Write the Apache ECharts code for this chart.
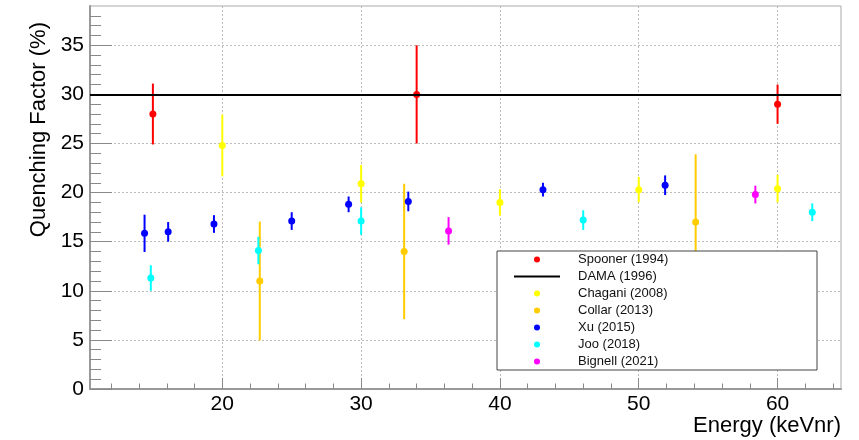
<!DOCTYPE html>
<html>
<head>
<meta charset="utf-8">
<script src="https://cdn.jsdelivr.net/npm/echarts@6/dist/echarts.min.js"></script>
<style>
  html, body { margin: 0; padding: 0; background: #fff; }
  #chart { width: 859px; height: 440px; }
</style>
</head>
<body>
<div id="chart"></div>
<script>
// ---- axis ranges and ticks ----
const xMin = 10.47, xMax = 64.57;
const yMin = 0, yMax = 39;
const xMajorTicks = [20, 30, 40, 50, 60];
const xMinorTicks = [12, 14, 16, 18, 22, 24, 26, 28, 32, 34, 36, 38, 42, 44, 46, 48, 52, 54, 56, 58, 62, 64];
const yMajorTicks = [0, 5, 10, 15, 20, 25, 30, 35];
const yMinorTicks = [1, 2, 3, 4, 6, 7, 8, 9, 11, 12, 13, 14, 16, 17, 18, 19, 21, 22, 23, 24, 26, 27, 28, 29, 31, 32, 33, 34, 36, 37, 38];
const xTitle = 'Energy (keVnr)';
const yTitle = 'Quenching Factor (%)';

// ---- data: energy (keVnr), quenching factor (%), error (%) ----
const spoonerE   = [15, 34, 60];
const spoonerQF  = [28.0, 30.0, 29.0];
const spoonerErr = [3.1, 5.0, 2.0];

const damaQF = [30];

const chaganiE   = [20, 30, 40, 50, 60];
const chaganiQF  = [24.8, 20.9, 19.0, 20.3, 20.4];
const chaganiErr = [3.15, 1.9, 1.35, 1.3, 1.4];

const collarE   = [22.7, 33.1, 54.1];
const collarQF  = [11.0, 14.0, 17.0];
const collarErr = [6.05, 6.9, 6.9];

const xuE   = [14.4, 16.1, 19.4, 25.0, 29.1, 33.4, 43.1, 51.9];
const xuQF  = [15.85, 16.0, 16.8, 17.1, 18.8, 19.1, 20.3, 20.75];
const xuErr = [1.9, 1.0, 0.9, 0.9, 0.8, 1.0, 0.7, 1.0];

const jooE   = [14.85, 22.6, 30.0, 46.0, 62.5];
const jooQF  = [11.3, 14.1, 17.1, 17.2, 18.0];
const jooErr = [1.3, 1.4, 1.4, 1.0, 0.9];

const bignellE   = [36.3, 58.4];
const bignellQF  = [16.1, 19.8];
const bignellErr = [1.4, 0.9];

const names = ['Spooner (1994)', 'DAMA (1996)', 'Chagani (2008)', 'Collar (2013)', 'Xu (2015)', 'Joo (2018)', 'Bignell (2021)'];
const colors = {
  'Spooner (1994)': '#ff0000',
  'DAMA (1996)': '#000000',
  'Chagani (2008)': '#ffff00',
  'Collar (2013)': '#ffcc00',
  'Xu (2015)': '#0000ff',
  'Joo (2018)': '#00ffff',
  'Bignell (2021)': '#ff00ff'
};

const FONT = 'Liberation Sans, Arial, Helvetica, sans-serif';

function rows(E, QF, Err) {
  return E.map((e, i) => [e, QF[i], Err[i]]);
}

function makeSeries(name, E, QF, Err) {
  const data = rows(E, QF, Err);
  const color = colors[name];
  return [
    {
      type: 'custom',
      name: name,
      data: data,
      encode: { x: 0, y: 1 },
      z: 3,
      itemStyle: { color: color },
      renderItem: function (params, api) {
        const x = api.value(0), y = api.value(1), e = api.value(2);
        const p1 = api.coord([x, y - e]);
        const p2 = api.coord([x, y + e]);
        return {
          type: 'line',
          shape: { x1: p1[0], y1: p1[1], x2: p2[0], y2: p2[1] },
          style: { stroke: color, lineWidth: 2 }
        };
      }
    },
    {
      type: 'scatter',
      name: name,
      data: data.map(d => [d[0], d[1]]),
      symbol: 'circle',
      symbolSize: 7,
      z: 4,
      itemStyle: { color: color, opacity: 1 }
    }
  ];
}

const series = [];
series.push(...makeSeries('Spooner (1994)', spoonerE, spoonerQF, spoonerErr));
series.push({
  type: 'line',
  name: 'DAMA (1996)',
  data: [],
  symbol: 'none',
  color: '#000000',
  lineStyle: { color: '#000000', width: 2 },
  z: 2,
  markLine: {
    silent: true,
    symbol: ['none', 'none'],
    label: { show: false },
    lineStyle: { color: '#000000', width: 2, type: 'solid' },
    data: [{ yAxis: damaQF[0] }]
  }
});
series.push(...makeSeries('Chagani (2008)', chaganiE, chaganiQF, chaganiErr));
series.push(...makeSeries('Collar (2013)', collarE, collarQF, collarErr));
series.push(...makeSeries('Xu (2015)', xuE, xuQF, xuErr));
series.push(...makeSeries('Joo (2018)', jooE, jooQF, jooErr));
series.push(...makeSeries('Bignell (2021)', bignellE, bignellQF, bignellErr));

const legendData = names.map(n => n === 'DAMA (1996)'
  ? { name: n, itemStyle: { color: 'rgba(0,0,0,0)', borderWidth: 0, opacity: 0 } }
  : { name: n, icon: 'circle', itemStyle: { color: colors[n], borderWidth: 0 } });

const axisGray = '#999999';

const option = {
  animation: false,
  backgroundColor: '#ffffff',
  textStyle: { fontFamily: FONT },
  grid: {
    left: 90, top: 6, width: 751, height: 383,
    show: true, borderColor: '#aaaaaa', borderWidth: 1, backgroundColor: 'transparent'
  },
  xAxis: [
    {
      type: 'value', min: xMin, max: xMax, position: 'bottom',
      axisLine: { show: true, onZero: false, lineStyle: { color: axisGray, width: 2 } },
      axisTick: { show: true, inside: true, length: 11, customValues: xMajorTicks, lineStyle: { color: '#888888', width: 1 } },
      axisLabel: { show: true, customValues: xMajorTicks, margin: 5, fontSize: 21, color: '#000000', fontFamily: FONT },
      splitLine: { show: true, lineStyle: { color: '#bbbbbb', width: 1, type: [2, 2] } },
      name: xTitle,
      nameLocation: 'end',
      nameGap: 0,
      nameTextStyle: { fontSize: 22, color: '#000000', fontFamily: FONT, align: 'right', verticalAlign: 'top', padding: [26, 0, 0, 0] }
    },
    {
      type: 'value', min: xMin, max: xMax, position: 'bottom',
      axisLine: { show: false, onZero: false },
      axisTick: { show: true, inside: true, length: 5.5, customValues: xMinorTicks, lineStyle: { color: '#888888', width: 1 } },
      axisLabel: { show: false },
      splitLine: { show: false }
    }
  ],
  yAxis: [
    {
      type: 'value', min: yMin, max: yMax, position: 'left',
      axisLine: { show: true, onZero: false, lineStyle: { color: axisGray, width: 2 } },
      axisTick: { show: true, inside: true, length: 22, customValues: yMajorTicks, lineStyle: { color: '#888888', width: 1 } },
      axisLabel: { show: true, customValues: yMajorTicks, margin: 6, fontSize: 21, color: '#000000', fontFamily: FONT },
      splitLine: { show: true, lineStyle: { color: '#bbbbbb', width: 1, type: [2, 2] } },
      name: yTitle,
      nameLocation: 'end',
      nameGap: -16,
      nameRotate: 90,
      nameTextStyle: { fontSize: 22, color: '#000000', fontFamily: FONT, align: 'right', verticalAlign: 'bottom', padding: [0, 0, 40, 0] }
    },
    {
      type: 'value', min: yMin, max: yMax, position: 'left',
      axisLine: { show: false, onZero: false },
      axisTick: { show: true, inside: true, length: 11, customValues: yMinorTicks, lineStyle: { color: '#888888', width: 1 } },
      axisLabel: { show: false },
      splitLine: { show: false }
    }
  ],
  legend: {
    show: true,
    orient: 'vertical',
    left: 497,
    top: 251,
    data: legendData,
    itemWidth: 46,
    itemHeight: 6,
    itemGap: 0,
    padding: [0, 6, 0, 16],
    backgroundColor: '#ffffff',
    borderColor: '#444444',
    borderWidth: 1,
    borderRadius: 0,
    selectedMode: false,
    textStyle: { fontSize: 13, color: '#111111', fontFamily: FONT, lineHeight: 17, width: 233, padding: [0, 0, 0, 13] }
  },
  series: series
};

const chart = echarts.init(document.getElementById('chart'), null, { renderer: 'canvas' });
chart.setOption(option);
</script>
</body>
</html>
